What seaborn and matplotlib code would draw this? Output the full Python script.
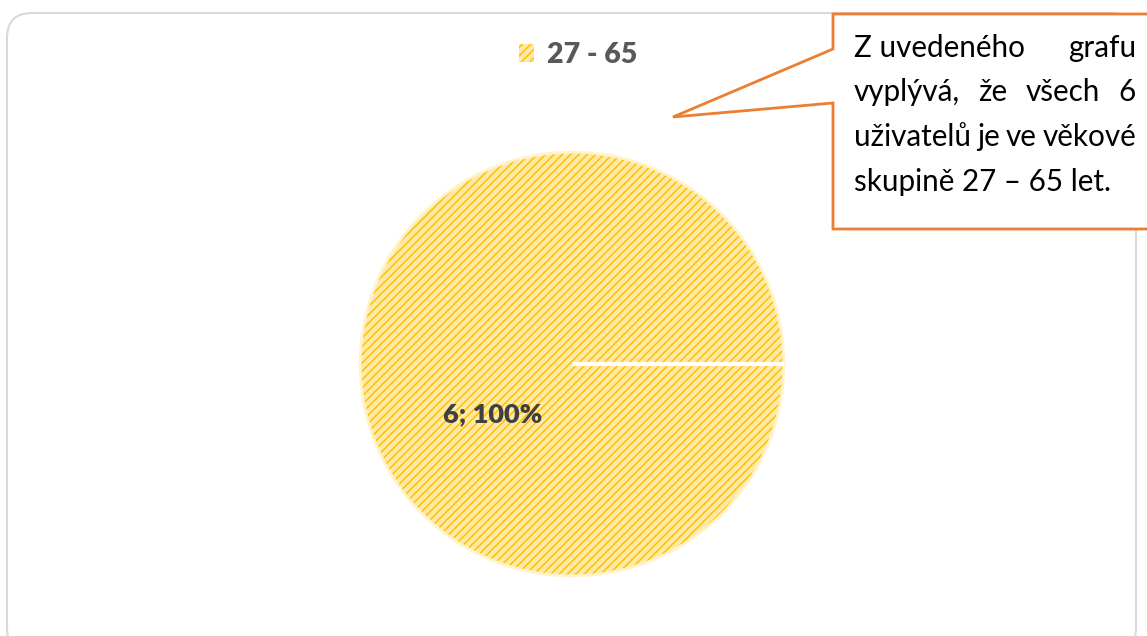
import matplotlib
matplotlib.use('Agg')
import numpy as np
import matplotlib.pyplot as plt
import seaborn as sns
from matplotlib.patches import Patch, FancyBboxPatch, Polygon

# Data
categories = ['27 - 65']
counts = [6]
slice_labels = ['6; 100%']
callout_lines = [
    ['Z uvedeného', 'grafu'],
    ['vyplývá,', 'že', 'všech', '6'],
    ['uživatelů', 'je', 've', 'věkové'],
    ['skupině 27 – 65 let.'],
]

sns.set_theme(style='white')
plt.rcParams['font.family'] = ['Lato', 'DejaVu Sans']
plt.rcParams['hatch.linewidth'] = 1.1

fill_color = '#FFE9A6'
hatch_color = '#FFC000'
orange = '#ED7D31'

W, H = 1147, 636
fig = plt.figure(figsize=(W / 100, H / 100), dpi=100)

# background layer in pixel coordinates
bg = fig.add_axes([0, 0, 1, 1])
bg.set_xlim(0, W)
bg.set_ylim(H, 0)
bg.axis('off')

frame = FancyBboxPatch((7, 13), 1129, 640, boxstyle='round,pad=0,rounding_size=25',
                       fc='white', ec='#D9D9D9', lw=1.5, clip_on=False)
bg.add_patch(frame)

# callout box with pointer
callout = Polygon([(833, 14), (1160, 14), (1160, 229), (833, 229), (833, 103),
                   (673, 117), (833, 49)], closed=True, fc='white', ec=orange,
                  lw=2, clip_on=False)
bg.add_patch(callout)

renderer = fig.canvas.get_renderer()
fs = 21.3
left, right = 854, 1136
baselines = [57, 101, 146, 191]


def text_width(s):
    t = bg.text(0, 0, s, fontsize=fs)
    w = t.get_window_extent(renderer).width
    t.remove()
    return w


# justified lines, last one left aligned
for i, words in enumerate(callout_lines):
    if len(words) == 1:
        bg.text(left, baselines[i], words[0], fontsize=fs, color='black', va='baseline', ha='left')
        continue
    widths = [text_width(w) for w in words]
    gap = (right - left - sum(widths)) / (len(words) - 1)
    x = left
    for w, wd in zip(words, widths):
        bg.text(x, baselines[i], w, fontsize=fs, color='black', va='baseline', ha='left')
        x += wd + gap

# pie chart
ax = fig.add_axes([358 / W, 58 / H, 428 / W, 428 / H])
wedges, _ = ax.pie(counts, colors=[fill_color], startangle=0, counterclock=True,
                   wedgeprops=dict(edgecolor=hatch_color, linewidth=0, hatch='////'))
ax.pie(counts, colors=['none'], startangle=0,
       wedgeprops=dict(edgecolor='#FFF3CC', linewidth=2))
for wd in wedges:
    ang = np.deg2rad(wd.theta1)
    ax.plot([0, wd.r * np.cos(ang)], [0, wd.r * np.sin(ang)], color='white', lw=3,
            solid_capstyle='butt')
ax.set_xlim(-1.01, 1.01)
ax.set_ylim(-1.01, 1.01)
ax.text(-0.374, -0.235, slice_labels[0], fontsize=19.5, fontweight='heavy',
        color='#404040', ha='center', va='center')

legend_handles = [Patch(facecolor=fill_color, edgecolor=hatch_color, hatch='////', linewidth=0)]
fig.legend(handles=legend_handles, labels=categories, loc='center',
           bbox_to_anchor=(578 / W, 1 - 55 / H), frameon=False,
           prop=dict(weight='heavy', size=20.5), labelcolor='#595959',
           handlelength=0.55, handleheight=0.55, handletextpad=0.45)

fig.savefig('out.png', dpi=100)
plt.close(fig)
